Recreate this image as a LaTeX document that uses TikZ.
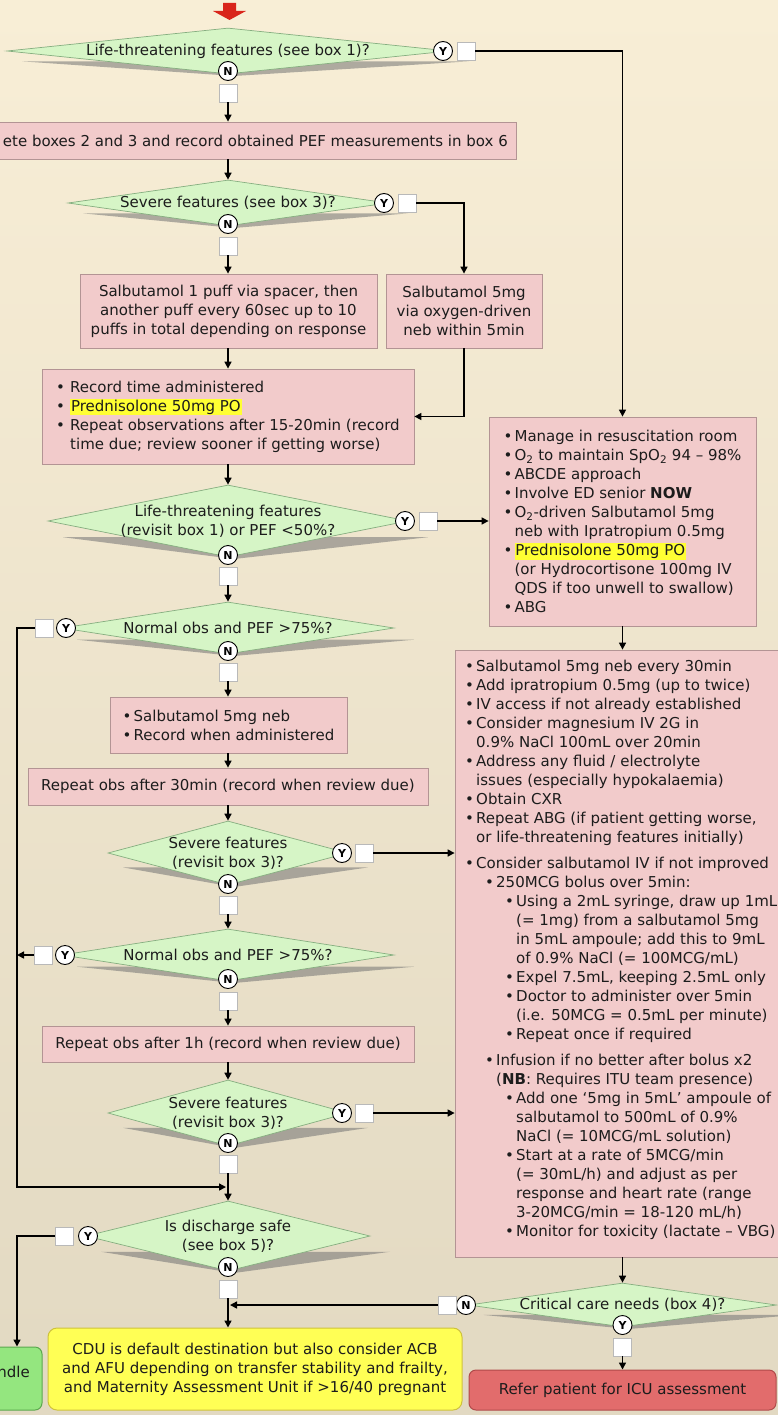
\documentclass[tikz,border=0pt]{standalone}
\usepackage{fontspec}
\setmainfont{DejaVu Sans}
\usetikzlibrary{shapes.geometric,arrows.meta,calc}
\definecolor{bgtop}{HTML}{F8EED6}
\definecolor{bgbot}{HTML}{E2D9C2}
\definecolor{pinkf}{HTML}{F2CBCB}
\definecolor{pinkd}{HTML}{B39494}
\definecolor{greenf}{HTML}{D6F5C6}
\definecolor{greend}{HTML}{86AE80}
\definecolor{hl}{HTML}{FFFF33}
\definecolor{cduf}{HTML}{FFFF55}
\definecolor{cdud}{HTML}{CFC23C}
\definecolor{gbf}{HTML}{94E67F}
\definecolor{gbd}{HTML}{5BA84E}
\definecolor{refd}{HTML}{B04A4A}
\definecolor{reff}{HTML}{E26C6C}
\definecolor{txt}{HTML}{1C1C1C}
\definecolor{redarr}{HTML}{D9251B}

\newcommand\hlt[1]{{\setlength{\fboxsep}{0.8pt}\colorbox{hl}{#1}}}
\newcommand\bu{\makebox[11pt][l]{•}}
\newcommand\bub{\makebox[14pt][l]{•}}
\newcommand\lvA{\bu}
\newcommand\lvB{\hspace*{20pt}\bu}
\newcommand\lvC{\hspace*{40pt}\bu}
\newcommand\cA{\hspace*{11pt}}
\newcommand\cB{\hspace*{31pt}}
\newcommand\cC{\hspace*{51pt}}

\tikzset{
 txtbase/.style={font=\fontsize{15}{19}\selectfont, text=txt},
 pbox/.style={txtbase, rectangle, draw=pinkd, fill=pinkf, line width=0.8pt, inner sep=0pt, align=center},
 cdubox/.style={txtbase, rectangle, rounded corners=9pt, draw=cdud, fill=cduf, line width=1pt, inner sep=0pt, align=center},
 gbox/.style={txtbase, rectangle, rounded corners=7pt, draw=gbd, fill=gbf, line width=1pt, inner sep=0pt},
 rbox/.style={txtbase, rectangle, rounded corners=7pt, draw=refd, fill=reff, line width=1pt, inner sep=0pt, align=center},
 dnode/.style={diamond, draw=greend, fill=greenf, line width=0.7pt, inner sep=0pt},
 dtext/.style={txtbase, align=center, inner sep=0pt},
 yn/.style={circle, draw=black, fill=white, line width=0.9pt, inner sep=0pt, minimum size=19pt, font=\bfseries\fontsize{11}{11}\selectfont},
 sq/.style={rectangle, draw=gray!55, fill=white, line width=0.8pt, minimum size=18pt, inner sep=0pt},
 conn/.style={line width=1.5pt, draw=black, -{Triangle[length=7pt,width=7pt]}},
 plainline/.style={line width=1.5pt, draw=black},
 dshadow/.style={fill=black!55, opacity=0.55},
}

% box: [style]{name}{x1}{y1}{x2}{y2}{text}
\newcommand\bx[7][pbox]{\node[#1, minimum width={#5-#3}, minimum height={#6-#4}] (#2) at ({(#3+#5)/2},{(#4+#6)/2}) {#7};}
% diamond: {name}{cx}{cy}{hw}{hh}{text}
\newcommand\dia[6]{%
 \fill[dshadow] ({#2-#4+15},{#3+0.45*#5}) -- ({#2+#4+20},{#3+0.45*#5}) -- ({#2+6},{#3+#5+2}) -- cycle;
 \node[dnode, minimum width={2*#4}, minimum height={2*#5}] (#1) at (#2,#3) {};
 \node[dtext] (#1t) at (#2,#3) {#6};}

\begin{document}
\begin{tikzpicture}[x=1pt,y=-1pt]
\useasboundingbox (0,0) rectangle (778,1415);
\clip (0,0) rectangle (778,1415);
\shade[top color=bgtop, bottom color=bgbot] (0,0) rectangle (778,1415);

% red start arrow
\fill[redarr] (223,3) -- (236,3) -- (236,11) -- (246,11) -- (229.5,20) -- (213,11) -- (223,11) -- cycle;

% diamonds
\dia{d1}{228}{51}{221}{23}{Life-threatening features (see box 1)?}
\dia{d2}{228}{203}{160}{23}{Severe features (see box 3)?}
\dia{d3}{228}{521}{180}{36}{Life-threatening features\\(revisit box 1) or PEF <50\%?}
\dia{d4}{228}{628}{166}{26}{Normal obs and PEF >75\%?}
\dia{d5}{228}{853}{120}{32}{Severe features\\(revisit box 3)?}
\dia{d6}{228}{955}{166}{26}{Normal obs and PEF >75\%?}
\dia{d7}{228}{1113}{120}{33}{Severe features\\(revisit box 3)?}
\dia{d8}{228}{1236}{142}{35}{Is discharge safe\\(see box 5)?}
\dia{dc}{622.5}{1305}{154}{22}{Critical care needs (box 4)?}

% boxes
\bx{box2}{(-60)}{122}{516}{159}{}
\node[txtbase, anchor=east, inner sep=0pt] (box2t) at (508,141) {ete boxes 2 and 3 and record obtained PEF measurements in box 6};
\bx{box3a}{80}{274}{377}{348}{Salbutamol 1 puff via spacer, then\\another puff every 60sec up to 10\\puffs in total depending on response}
\bx{box3b}{386}{274}{542}{348}{Salbutamol 5mg\\via oxygen-driven\\neb within 5min}
\bx[pbox,align=left]{box4}{42}{369}{414}{464}{\bub Record time administered\\\bub \hlt{Prednisolone 50mg PO}\\\bub Repeat observations after 15-20min (record\\\hspace*{14pt}time due; review sooner if getting worse)}
\bx[pbox,align=left]{resus}{489}{417}{756}{626}{\lvA Manage in resuscitation room\\
\lvA O\textsubscript{2} to maintain SpO\textsubscript{2} 94 – 98\%\\
\lvA ABCDE approach\\
\lvA Involve ED senior \textbf{NOW}\\
\lvA O\textsubscript{2}-driven Salbutamol 5mg\\
\cA neb with Ipratropium 0.5mg\\
\lvA \hlt{Prednisolone 50mg PO}\\
\cA (or Hydrocortisone 100mg IV\\
\cA QDS if too unwell to swallow)\\
\lvA ABG}
\bx{r2}{455}{650}{790}{1257}{}
\node[txtbase, align=left, anchor=north west, inner sep=0pt] (r2t) at (465,660) {%
\lvA Salbutamol 5mg neb every 30min\\
\lvA Add ipratropium 0.5mg (up to twice)\\
\lvA IV access if not already established\\
\lvA Consider magnesium IV 2G in\\
\cA 0.9\% NaCl 100mL over 20min\\
\lvA Address any fluid / electrolyte\\
\cA issues (especially hypokalaemia)\\
\lvA Obtain CXR\\
\lvA Repeat ABG (if patient getting worse,\\
\cA or life-threatening features initially)\\[7pt]
\lvA Consider salbutamol IV if not improved\\
\lvB 250MCG bolus over 5min:\\
\lvC Using a 2mL syringe, draw up 1mL\\
\cC (= 1mg) from a salbutamol 5mg\\
\cC in 5mL ampoule; add this to 9mL\\
\cC of 0.9\% NaCl (= 100MCG/mL)\\
\lvC Expel 7.5mL, keeping 2.5mL only\\
\lvC Doctor to administer over 5min\\
\cC (i.e. 50MCG = 0.5mL per minute)\\
\lvC Repeat once if required\\[7pt]
\lvB Infusion if no better after bolus x2\\
\cB (\textbf{NB}: Requires ITU team presence)\\
\lvC Add one ‘5mg in 5mL’ ampoule of\\
\cC salbutamol to 500mL of 0.9\%\\
\cC NaCl (= 10MCG/mL solution)\\
\lvC Start at a rate of 5MCG/min\\
\cC (= 30mL/h) and adjust as per\\
\cC response and heart rate (range\\
\cC 3-20MCG/min = 18-120 mL/h)\\
\lvC Monitor for toxicity (lactate – VBG)};
\bx[pbox,align=left]{box5}{110}{697}{347}{753}{\lvA Salbutamol 5mg neb\\\lvA Record when administered}
\bx{box6}{28}{768}{428}{805}{Repeat obs after 30min (record when review due)}
\bx{box7}{42}{1026}{414}{1062}{Repeat obs after 1h (record when review due)}
\bx[cdubox]{cdu}{48}{1328}{462}{1410}{CDU is default destination but also consider ACB\\and AFU depending on transfer stability and frailty,\\and Maternity Assessment Unit if >16/40 pregnant}
\bx[gbox]{gb}{(-8)}{1347}{42}{1410}{}
\node[txtbase, anchor=east, inner sep=0pt] (gbt) at (30,1372) {ndle};
\bx[rbox]{refer}{469}{1370}{776}{1410}{Refer patient for ICU assessment}

% Y / N markers
\node[yn] (d1y) at (443,51) {Y};   \node[sq] (d1ys) at (466,51) {};
\node[yn] (d1n) at (228,71) {N};   \node[sq] (d1ns) at (228,93) {};
\node[yn] (d2y) at (384,203) {Y};  \node[sq] (d2ys) at (407,203) {};
\node[yn] (d2n) at (228,224) {N};  \node[sq] (d2ns) at (228,246) {};
\node[yn] (d3y) at (405,521) {Y};  \node[sq] (d3ys) at (428,521) {};
\node[yn] (d3n) at (228,555) {N};  \node[sq] (d3ns) at (228,576) {};
\node[yn] (d4y) at (66,628) {Y};   \node[sq] (d4ys) at (44,628) {};
\node[yn] (d4n) at (228,651) {N};  \node[sq] (d4ns) at (228,672) {};
\node[yn] (d5y) at (342,853) {Y};  \node[sq] (d5ys) at (364,853) {};
\node[yn] (d5n) at (228,884) {N};  \node[sq] (d5ns) at (228,905) {};
\node[yn] (d6y) at (65,955) {Y};   \node[sq] (d6ys) at (43,955) {};
\node[yn] (d6n) at (228,979) {N};  \node[sq] (d6ns) at (228,1001) {};
\node[yn] (d7y) at (342,1113) {Y}; \node[sq] (d7ys) at (364,1113) {};
\node[yn] (d7n) at (228,1143) {N}; \node[sq] (d7ns) at (228,1164) {};
\node[yn] (d8y) at (88,1236) {Y};  \node[sq] (d8ys) at (64,1236) {};
\node[yn] (d8n) at (228,1267) {N}; \node[sq] (d8ns) at (228,1289) {};
\node[yn] (dcn) at (466,1305) {N}; \node[sq] (dcns) at (447,1305) {};
\node[yn] (dcy) at (622.5,1325) {Y}; \node[sq] (dcys) at (622.5,1347) {};

\coordinate (loopc) at (17,1187);
\coordinate (j1) at (226,1187);
\coordinate (j2) at (230,1305);

% connectors
\draw[conn] (d1ys.east) -| (resus.north);
\draw[conn] (d1ns.south) -- (d1ns.south |- box2.north);
\draw[conn] (box2.south -| d1ns.south) -- (d2.north);
\draw[conn] (d2ys.east) -| (box3b.north);
\draw[conn] (d2ns.south) -- (d2ns.south |- box3a.north);
\draw[conn] (box3a.south -| d2ns.south) -- (box4.north);
\draw[conn] (box3b.south) |- (box4.east);
\draw[conn] (box4.south) -- (d3.north);
\draw[conn] (d3ys.east) -- (d3ys.east -| resus.west);
\draw[conn] (d3ns.south) -- (d4.north);
\draw[conn] (d4ys.west) -| (loopc) -- (j1);
\draw[conn] (d4ns.south) -- (d4ns.south |- box5.north);
\draw[conn] (box5.south -| d4ns.south) -- (box6.north);
\draw[conn] (box6.south) -- (d5.north);
\draw[conn] (d5ys.east) -- (d5ys.east -| r2.west);
\draw[conn] (d5ns.south) -- (d6.north);
\draw[conn] (d6ys.west) -- (d6ys.west -| loopc);
\draw[conn] (d6ns.south) -- (box7.north);
\draw[conn] (box7.south) -- (d7.north);
\draw[conn] (d7ys.east) -- (d7ys.east -| r2.west);
\draw[conn] (d7ns.south) -- (d8.north);
\draw[conn] (d8ys.west) -| (gb.north);
\draw[conn] (d8ns.south) -- (d8ns.south |- cdu.north);
\draw[conn] (dcns.west) -- (j2);
\draw[conn] (resus.south) -- (resus.south |- r2.north);
\draw[conn] (r2.south -| dc.north) -- (dc.north);
\draw[conn] (dcys.south) -- (dcys.south |- refer.north);
\end{tikzpicture}
\end{document}
